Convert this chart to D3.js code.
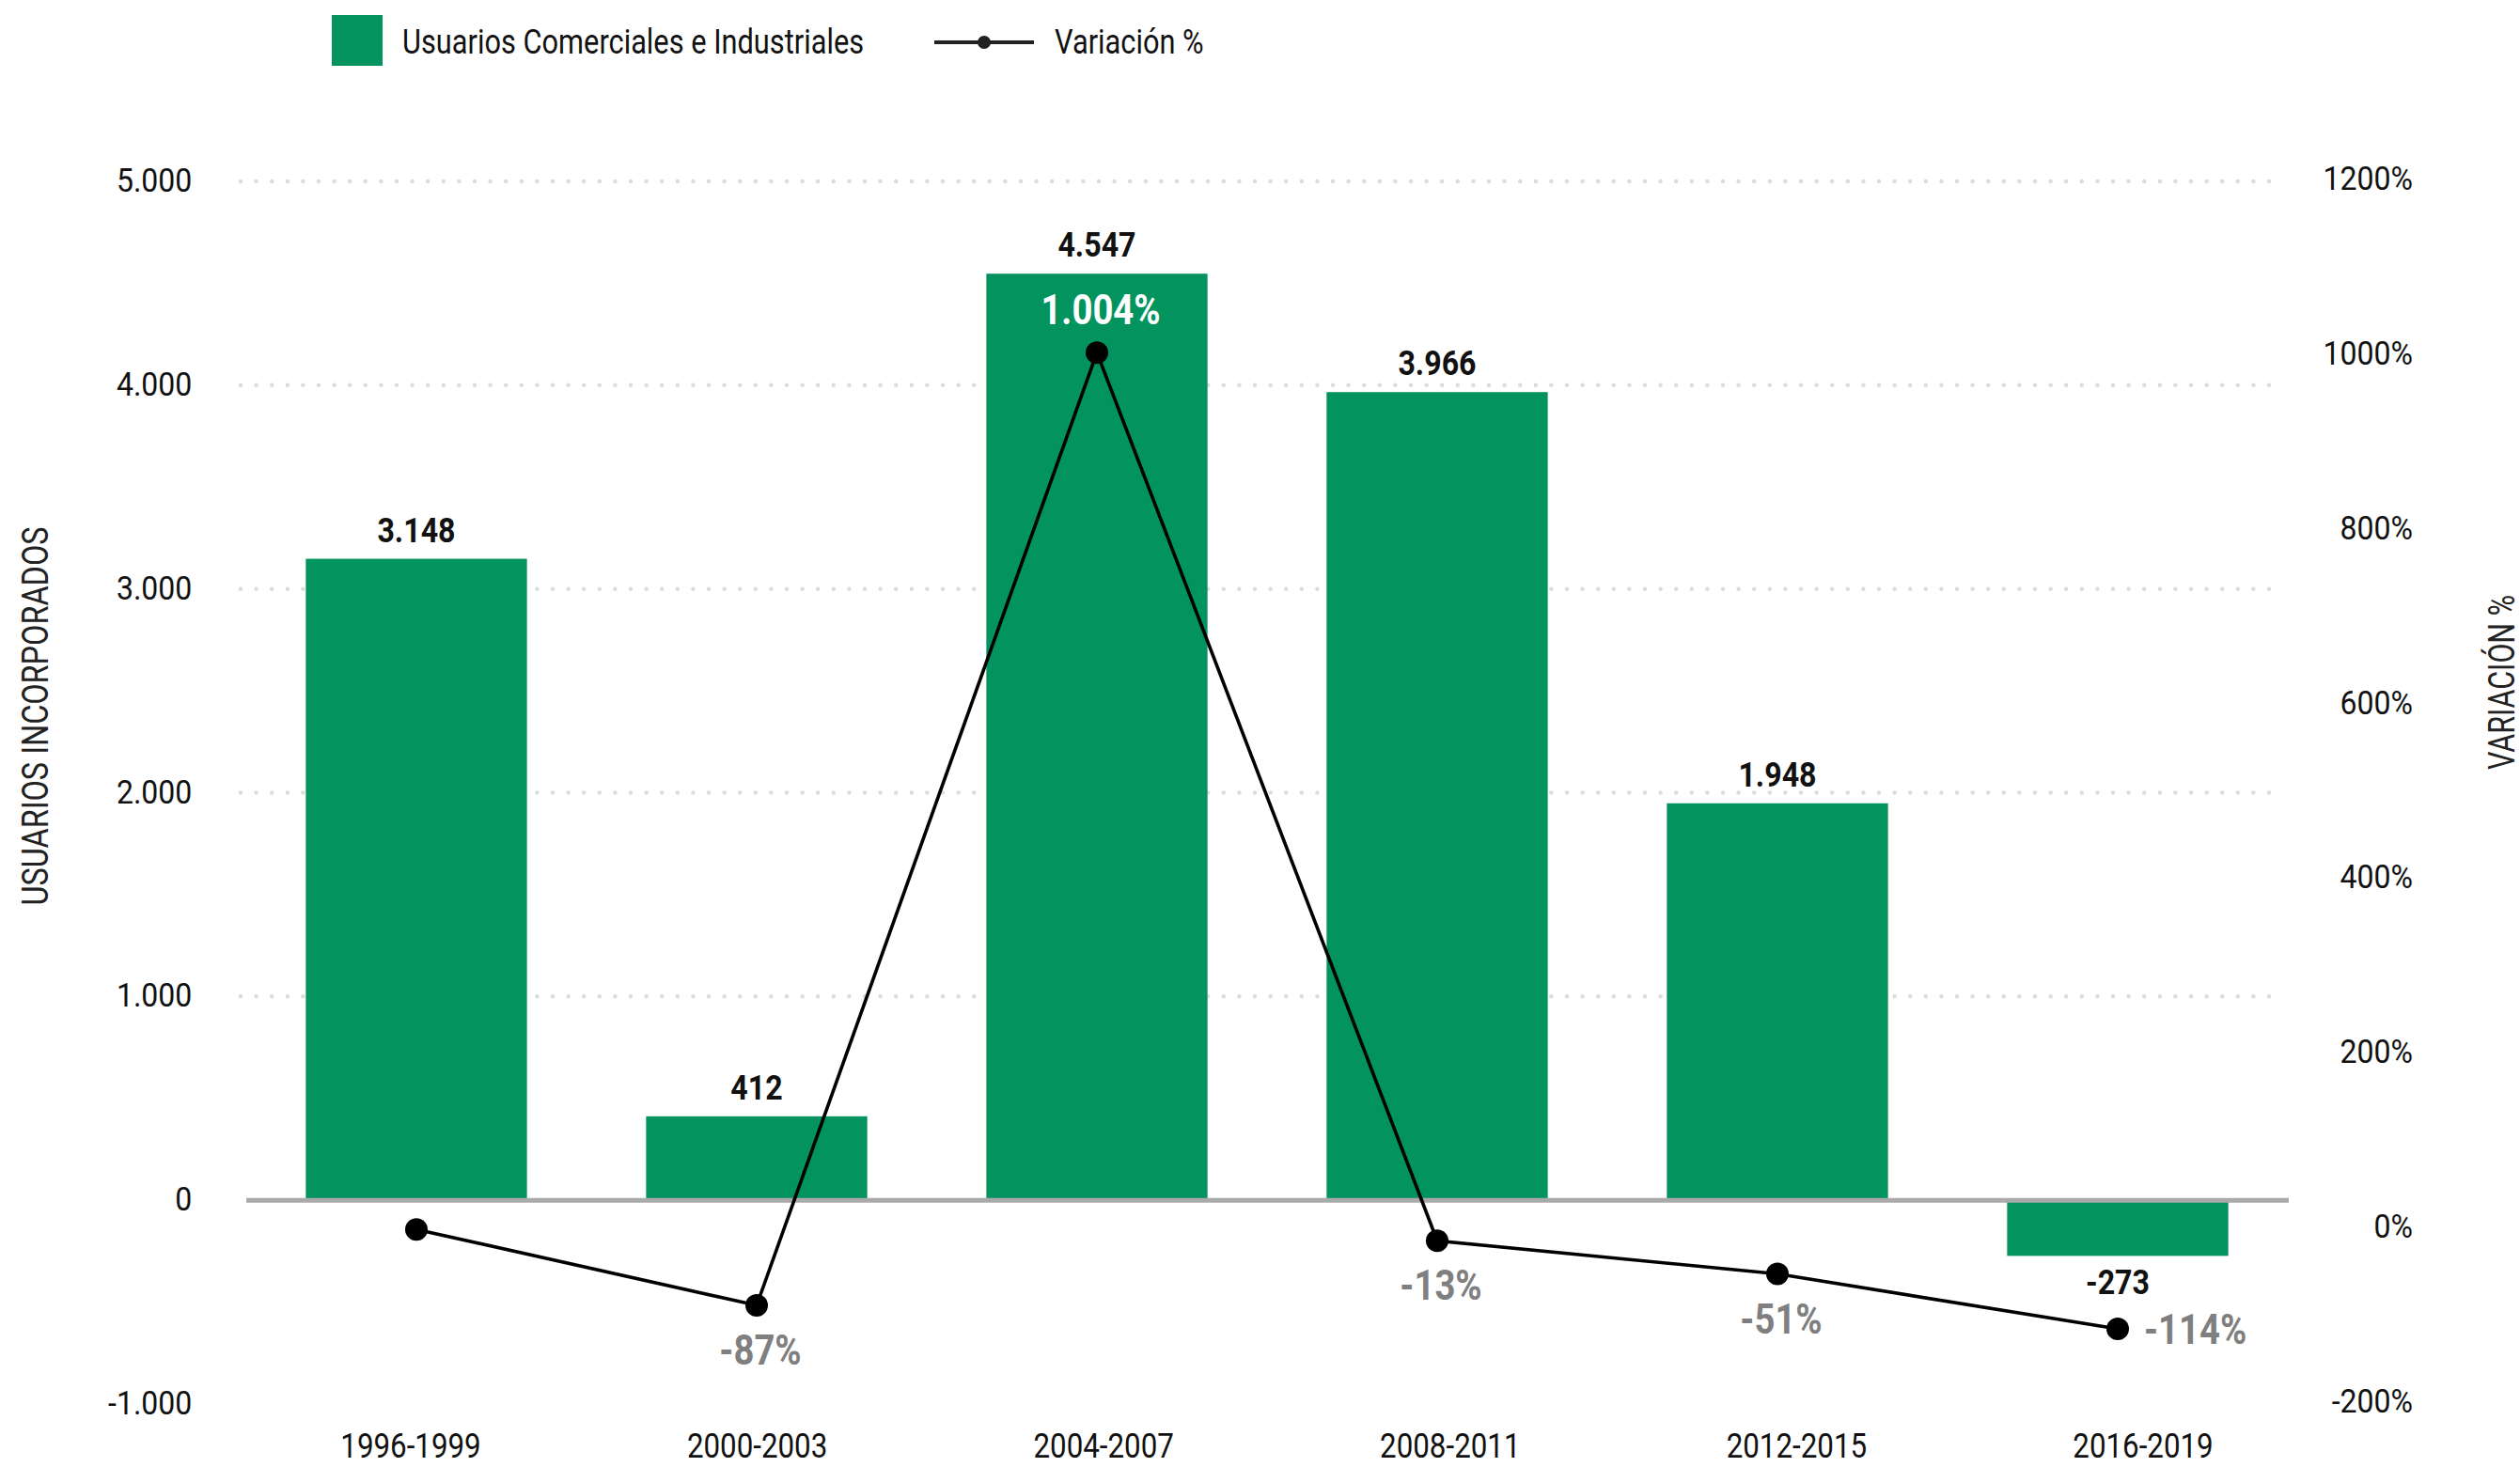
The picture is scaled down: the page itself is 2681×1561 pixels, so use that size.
<!DOCTYPE html>
<html>
<head>
<meta charset="utf-8">
<script src="https://cdn.jsdelivr.net/npm/d3@7"></script>
<style>
  html, body { margin: 0; padding: 0; background: #fff; }
  svg { display: block; font-family: Roboto, "Noto Sans", sans-serif; }
</style>
</head>
<body>
<div id="chart"></div>
<script>
// data
const periods = ["1996-1999", "2000-2003", "2004-2007", "2008-2011", "2012-2015", "2016-2019"];
const usuarios = [3148, 412, 4547, 3966, 1948, -273];
const variacion = [0, -87, 1004, -13, -51, -114];
const leftTicks = [-1000, 0, 1000, 2000, 3000, 4000, 5000];
const rightTicks = [-200, 0, 200, 400, 600, 800, 1000, 1200];

const W = 2681, H = 1561;
const GREEN = "#02935f";
const SX = 0.87; // squeeze Roboto to look like the condensed face

const loc = d3.formatLocale({ decimal: ",", thousands: ".", grouping: [3], currency: ["", ""], minus: "-" });
const fmt = loc.format(",d");

const svg = d3.select("#chart").append("svg")
    .attr("width", W).attr("height", H)
    .attr("viewBox", `0 0 ${W} ${H}`);

const x = d3.scaleBand().domain(periods).range([262, 2434])
    .paddingInner(0.35).paddingOuter(0.175);
const xLab = d3.scalePoint().domain(periods).range([437, 2280]);
const y = d3.scaleLinear().domain([-1000, 5000]).range([1494, 193]);
const y2 = d3.scaleLinear().domain([-200, 1200]).range([1494, 193]);
const cx = d => x(d) + x.bandwidth() / 2;

// condensed text helper
function label(parent, tx, ty, str, o = {}) {
    const g = parent.append("g").attr("transform", `translate(${tx},${ty}) scale(${o.sx ?? SX},1)`);
    return g.append("text")
        .attr("text-anchor", o.anchor || "middle")
        .style("font-size", (o.size || 36) + "px")
        .style("font-weight", o.weight || 400)
        .style("fill", o.fill || "#111")
        .text(str);
}

// dotted gridlines
svg.append("g").selectAll("line")
    .data(leftTicks.filter(t => t > 0))
    .join("line")
    .attr("x1", 256).attr("x2", 2430)
    .attr("y1", d => y(d)).attr("y2", d => y(d))
    .attr("stroke", "#dcdcdc").attr("stroke-width", 4.5)
    .attr("stroke-linecap", "round").attr("stroke-dasharray", "0 16.6");

// left axis
const axL = svg.append("g").attr("transform", "translate(215,-1)")
    .call(d3.axisLeft(y).tickValues(leftTicks).tickFormat(fmt).tickSize(0).tickPadding(12));
axL.select(".domain").remove();
axL.selectAll("text").attr("transform", `scale(0.89,1)`)
    .style("font-size", "36px").style("fill", "#111").style("font-family", "Roboto, sans-serif");

// right axis
const axR = svg.append("g").attr("transform", "translate(2567,-3)")
    .call(d3.axisLeft(y2).tickValues(rightTicks).tickFormat(d => d + "%").tickSize(0).tickPadding(0));
axR.select(".domain").remove();
axR.selectAll("text").attr("transform", `scale(0.89,1)`)
    .style("font-size", "36px").style("fill", "#111").style("font-family", "Roboto, sans-serif");

// bars
svg.append("g").selectAll("rect")
    .data(periods)
    .join("rect")
    .attr("x", d => x(d))
    .attr("width", x.bandwidth())
    .attr("y", (d, i) => Math.min(y(usuarios[i]), y(0)))
    .attr("height", (d, i) => Math.abs(y(usuarios[i]) - y(0)))
    .attr("fill", GREEN);

// zero line
svg.append("line")
    .attr("x1", 262).attr("x2", 2435)
    .attr("y1", y(0)).attr("y2", y(0))
    .attr("stroke", "#aaaaaa").attr("stroke-width", 5);

// bar value labels
const barLab = svg.append("g");
periods.forEach((p, i) => {
    const v = usuarios[i];
    const ty = v >= 0 ? y(v) - 18 : y(v) + 41;
    label(barLab, cx(p), ty, fmt(v), { size: 37, weight: 700, fill: "#111" });
});

// variation line
const line = d3.line().x(d => cx(d)).y((d, i) => y2(variacion[i]));
svg.append("path")
    .datum(periods)
    .attr("d", line)
    .attr("fill", "none").attr("stroke", "#000").attr("stroke-width", 3.6);
svg.append("g").selectAll("circle")
    .data(periods)
    .join("circle")
    .attr("cx", d => cx(d))
    .attr("cy", (d, i) => y2(variacion[i]))
    .attr("r", 12).attr("fill", "#000");

// variation labels
const varLab = svg.append("g");
const maxI = d3.maxIndex(variacion);
periods.forEach((p, i) => {
    if (i === 0) return;
    const v = variacion[i], px = cx(p), py = y2(v);
    const txt = fmt(v) + "%";
    if (i === maxI) {
        label(varLab, px + 4, py - 30, txt, { size: 44, weight: 700, fill: "#fff" });
    } else if (i === periods.length - 1) {
        label(varLab, px + 28, py + 16, txt, { size: 44, weight: 700, fill: "#7f7f7f", anchor: "start" });
    } else {
        label(varLab, px + 4, py + 63, txt, { size: 44, weight: 700, fill: "#7f7f7f" });
    }
});

// category labels
const catLab = svg.append("g");
periods.forEach(p => label(catLab, xLab(p), 1551, p, { size: 36, fill: "#111" }));

// axis titles
svg.append("text")
    .attr("transform", "translate(51,762) rotate(-90)")
    .attr("text-anchor", "middle")
    .attr("textLength", 403).attr("lengthAdjust", "spacingAndGlyphs")
    .style("font-size", "39px").style("fill", "#222")
    .text("USUARIOS INCORPORADOS");
svg.append("text")
    .attr("transform", "translate(2675,726) rotate(-90)")
    .attr("text-anchor", "middle")
    .attr("textLength", 186).attr("lengthAdjust", "spacingAndGlyphs")
    .style("font-size", "38px").style("fill", "#222")
    .text("VARIACIÓN %");

// legend
const leg = svg.append("g");
leg.append("rect").attr("x", 353).attr("y", 16).attr("width", 54).attr("height", 54).attr("fill", GREEN);
label(leg, 428, 57, "Usuarios Comerciales e Industriales", { size: 36, anchor: "start", fill: "#111", sx: 0.855 });
leg.append("line").attr("x1", 994).attr("x2", 1100).attr("y1", 45).attr("y2", 45)
    .attr("stroke", "#222").attr("stroke-width", 4);
leg.append("circle").attr("cx", 1047).attr("cy", 45).attr("r", 7).attr("fill", "#222");
label(leg, 1122, 57, "Variación %", { size: 36, anchor: "start", fill: "#111", sx: 0.855 });
</script>
</body>
</html>
